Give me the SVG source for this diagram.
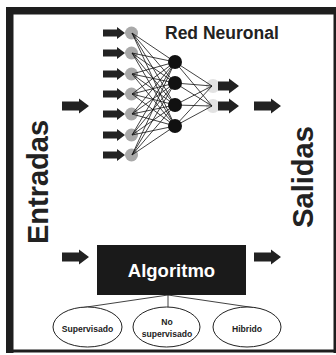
<svg xmlns="http://www.w3.org/2000/svg" xmlns:xlink="http://www.w3.org/1999/xlink" width="336" height="355" viewBox="0 0 336 355">
<style>
.lbl{font-family:"Liberation Sans",Arial,sans-serif;font-weight:bold;fill:#222}
.w{fill:#fff}
.ln{stroke:#111;stroke-width:0.8;fill:none}
.in{fill:#a9a9a9}
.hid{fill:#111}
.out{fill:#e2e2e2}
.arr{fill:#222}
.ell{fill:#fff;stroke:#222;stroke-width:1}
.sm{font-size:8.6px;fill:#222}
</style>
<defs>
<polygon id="aS" points="-22,-3.5 -8,-3.5 -8,-6 0,0 -8,6 -8,3.5 -22,3.5"/>
<polygon id="aM" points="-21,-4.5 -10,-4.5 -10,-7.5 0,0 -10,7.5 -10,4.5 -21,4.5"/>
<polygon id="aB" points="-27,-4.5 -10,-4.5 -10,-7.5 0,0 -10,7.5 -10,4.5 -27,4.5"/>
</defs>
<rect width="336" height="355" fill="#fff"/>
<g id="frame" fill="#1e1e1e">
<rect x="6" y="7" width="330" height="7.5"/>
<rect x="6" y="7" width="7.5" height="346"/>
<rect x="333.5" y="7" width="2.5" height="346"/>
<rect x="6" y="349.5" width="330" height="3"/>
</g>
<g id="input-nodes" class="in">
<circle cx="131.5" cy="33" r="6.5"/>
<circle cx="131.5" cy="53" r="6.5"/>
<circle cx="131.5" cy="74" r="6.5"/>
<circle cx="131.5" cy="94" r="6.5"/>
<circle cx="131.5" cy="114" r="6.5"/>
<circle cx="131.5" cy="135" r="6.5"/>
<circle cx="131.5" cy="155" r="6.5"/>
</g>
<g id="output-nodes" class="out">
<circle cx="213" cy="86" r="7"/>
<circle cx="213" cy="106" r="7"/>
</g>
<g id="connectors">
<g class="ln">
<path d="M132 33L175 62M132 33L175 83M132 33L175 105M132 33L175 126"/>
<path d="M132 53L175 62M132 53L175 83M132 53L175 105M132 53L175 126"/>
<path d="M132 74L175 62M132 74L175 83M132 74L175 105M132 74L175 126"/>
<path d="M132 94L175 62M132 94L175 83M132 94L175 105M132 94L175 126"/>
<path d="M132 114L175 62M132 114L175 83M132 114L175 105M132 114L175 126"/>
<path d="M132 135L175 62M132 135L175 83M132 135L175 105M132 135L175 126"/>
<path d="M132 155L175 62M132 155L175 83M132 155L175 105M132 155L175 126"/>
<path d="M175 62L212 86M175 62L212 106M175 83L212 86M175 83L212 106M175 105L212 86M175 105L212 106M175 126L212 86M175 126L212 106"/>
<path d="M168 295L80 308M168 295L168 307M168 295L256 308"/>
</g>
<g class="arr">
<use xlink:href="#aS" x="125" y="33"/>
<use xlink:href="#aS" x="125" y="53"/>
<use xlink:href="#aS" x="125" y="74"/>
<use xlink:href="#aS" x="125" y="94"/>
<use xlink:href="#aS" x="125" y="114"/>
<use xlink:href="#aS" x="125" y="135"/>
<use xlink:href="#aS" x="125" y="155"/>
<use xlink:href="#aM" x="239" y="86"/>
<use xlink:href="#aM" x="239" y="106"/>
<use xlink:href="#aB" x="89" y="106"/>
<use xlink:href="#aB" x="281" y="106"/>
<use xlink:href="#aB" x="89" y="257"/>
<use xlink:href="#aB" x="281" y="257"/>
</g>
</g>
<g id="hidden-nodes" class="hid">
<circle cx="175" cy="62" r="7"/>
<circle cx="175" cy="83" r="7"/>
<circle cx="175" cy="105" r="7"/>
<circle cx="175" cy="126" r="7"/>
</g>
<g id="title"><text class="lbl" x="165" y="39" font-size="17.5">Red Neuronal</text></g>
<g id="entradas"><text class="lbl" transform="translate(48,182) rotate(-90)" text-anchor="middle" font-size="29">Entradas</text></g>
<g id="salidas"><text class="lbl" transform="translate(313,177) rotate(-90)" text-anchor="middle" font-size="29">Salidas</text></g>
<g id="algoritmo">
<rect x="97" y="245" width="149" height="50" fill="#1a1a1a"/>
<text class="lbl w" x="171.5" y="277" text-anchor="middle" font-size="18.5">Algoritmo</text>
</g>
<g id="supervisado">
<ellipse class="ell" cx="87.5" cy="327" rx="34.5" ry="20"/>
<text class="lbl sm" x="87.5" y="332" text-anchor="middle">Supervisado</text>
</g>
<g id="no-supervisado">
<ellipse class="ell" cx="166.5" cy="327" rx="33.5" ry="20"/>
<text class="lbl sm" x="167" y="325" text-anchor="middle">No</text>
<text class="lbl sm" x="167" y="337" text-anchor="middle">supervisado</text>
</g>
<g id="hibrido">
<ellipse class="ell" cx="247" cy="327" rx="34" ry="20"/>
<text class="lbl sm" x="247" y="332" text-anchor="middle">Hibrido</text>
</g>
</svg>
